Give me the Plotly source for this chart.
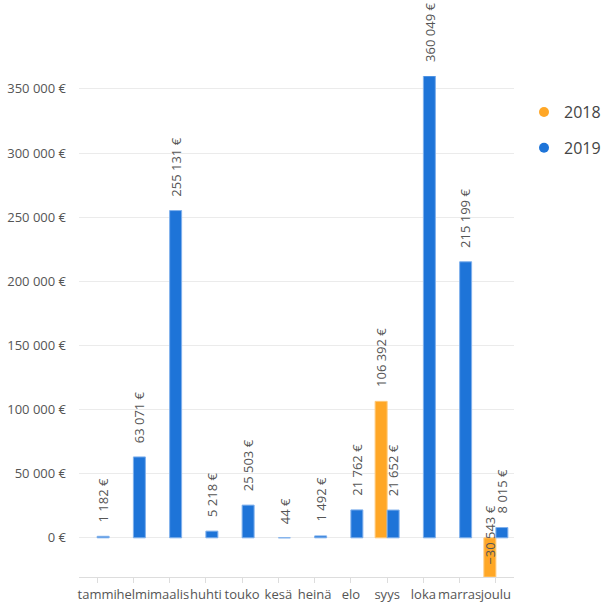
import plotly.graph_objects as go

months = ["tammi", "helmi", "maalis", "huhti", "touko", "kesä",
          "heinä", "elo", "syys", "loka", "marras", "joulu"]
values_2018 = [None, None, None, None, None, None, None, None, 106392, None, None, -30543]
values_2019 = [1182, 63071, 255131, 5218, 25503, 44, 1492, 21762, 21652, 360049, 215199, 8015]
series_names = ["2018", "2019"]
colors = ["#FFA726", "#1E74D8"]
line_colors = ["#FFC97A", "#7FB0EC"]
y_tickvals = [0, 50000, 100000, 150000, 200000, 250000, 300000, 350000]


def fmt(v):
    s = f"{abs(v):,}".replace(",", " ") + " €"
    return ("−" + s) if v < 0 else s


y_ticktext = [fmt(v) for v in y_tickvals]

fig = go.Figure()
all_series = [values_2018, values_2019]
for name, vals, c, lc in zip(series_names, all_series, colors, line_colors):
    fig.add_trace(go.Bar(
        x=months, y=vals, name=name, marker=dict(color=c, line=dict(color=lc, width=1)),
        showlegend=False, hoverinfo="skip"))

for name, c in zip(series_names, colors):
    fig.add_trace(go.Scatter(
        x=[None], y=[None], mode="markers", name=name, legendgroup=name,
        marker=dict(color=c, size=10, symbol="circle")))

annotations = []
for si, vals in enumerate(all_series):
    shift = -6 if si == 0 else 6
    for m, v in zip(months, vals):
        if v is None:
            continue
        if v >= 0:
            annotations.append(dict(
                x=m, y=v, xref="x", yref="y", text=fmt(v), showarrow=False,
                textangle=-90, xshift=shift, yshift=12, yanchor="bottom", xanchor="center",
                font=dict(family="Open Sans", size=13, color="#555555")))
        else:
            annotations.append(dict(
                x=m, y=0, xref="x", yref="y", text=fmt(v), showarrow=False,
                textangle=-90, xshift=shift, yshift=3, yanchor="middle", xanchor="center",
                font=dict(family="Open Sans", size=13, color="#555555")))

fig.update_layout(
    width=604, height=602,
    margin=dict(l=79, r=90, t=76, b=25, autoexpand=False),
    paper_bgcolor="white", plot_bgcolor="white",
    barmode="group", bargap=0.338, bargroupgap=0,
    font=dict(family="Open Sans", size=13, color="#555555"),
    legend=dict(x=1.023, xanchor="left", xref="paper", y=0.962, yanchor="top",
                font=dict(size=16, color="#444444"), tracegroupgap=12,
                itemwidth=30),
    annotations=annotations,
    showlegend=True,
)
fig.update_xaxes(
    type="category", categoryorder="array", categoryarray=months,
    showline=True, linecolor="#dddddd", linewidth=1, tickangle=0,
    ticks="outside", ticklen=5, tickcolor="#dddddd", showgrid=False,
    tickfont=dict(size=13, color="#555555"), automargin=False)
fig.update_yaxes(
    range=[-30543, 360049], tickvals=y_tickvals, ticktext=y_ticktext,
    showgrid=True, gridcolor="#ebebeb", gridwidth=1, zeroline=False, showline=False,
    ticks="", ticklabelstandoff=12, tickfont=dict(size=13, color="#555555"),
    automargin=False)

fig.write_html("out.html")
